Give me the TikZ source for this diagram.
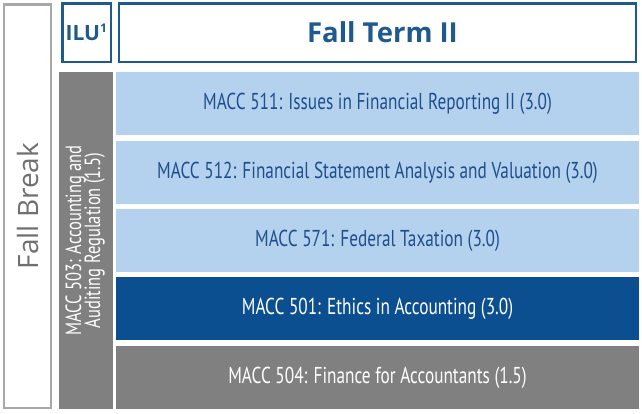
\documentclass[tikz,border=0pt]{standalone}
\usepackage{fontspec}
\setmainfont{PT Sans}
\newfontfamily\condfont[FakeStretch=0.75]{PT Sans}
\newfontfamily\headfont{Open Sans}
\definecolor{lightrow}{HTML}{B4D2EE}
\definecolor{darkrow}{HTML}{0B4F91}
\definecolor{grayrow}{HTML}{808080}
\definecolor{textblue}{HTML}{1F4E8C}
\definecolor{frameblue}{HTML}{1F5A8E}
\definecolor{framegray}{HTML}{A8A8A8}
\definecolor{breakgray}{HTML}{707070}
\begin{document}
\begin{tikzpicture}[x=1pt,y=-1pt,
  every node/.style={inner sep=0pt,outer sep=0pt},
  rowbox/.style={rectangle,minimum width=523pt,minimum height=63pt,font=\condfont\fontsize{23}{25}\selectfont},
  lightbox/.style={rowbox,fill=lightrow,text=textblue},
  darkbox/.style={rowbox,fill=darkrow,text=white},
  graybox/.style={rowbox,fill=grayrow,text=white},
  headbox/.style={rectangle,draw=frameblue,line width=2.5pt,fill=white,text=frameblue},
]
\useasboundingbox (0,0) rectangle (642,413);
\fill[white] (0,0) rectangle (642,413);
% Fall break
\node[rectangle,draw=framegray,line width=2.5pt,minimum width=47pt,minimum height=403.5pt,
  text=breakgray,font=\headfont\fontsize{28}{30}\selectfont] (fb) at (27.5,206) {\rotatebox{90}{Fall Break}};
% header
\node[headbox,minimum width=48.5pt,minimum height=58.5pt,font=\headfont\bfseries\fontsize{21}{22}\selectfont] (ilu) at (86.5,32.5) {ILU\textsuperscript{\fontsize{12}{12}\selectfont 1}};
\node[headbox,minimum width=517pt,minimum height=58.5pt,font=\headfont\bfseries\fontsize{27.5}{30}\selectfont] (term) at (377.5,32.5) {\hspace{10pt}Fall Term II};
% side column
\node[rectangle,fill=grayrow,minimum width=54pt,minimum height=337pt,text=white,
  font=\condfont\fontsize{22}{23}\selectfont] (m503) at (86,240.5)
  {\rotatebox{90}{\begin{tabular}{@{}c@{}}MACC 503: Accounting and\\[-4pt] Auditing Regulation (1.5)\end{tabular}}};
% rows
\node[lightbox] (r1) at (377.5,103.5) {\raisebox{-2pt}{MACC 511: Issues in Financial Reporting II (3.0)}};
\node[lightbox] (r2) at (377.5,172.5) {\raisebox{-2pt}{MACC 512: Financial Statement Analysis and Valuation (3.0)}};
\node[lightbox] (r3) at (377.5,240.5) {\raisebox{-2pt}{MACC 571: Federal Taxation (3.0)}};
\node[darkbox]  (r4) at (377.5,308.5) {\raisebox{-2pt}{MACC 501: Ethics in Accounting (3.0)}};
\node[graybox]  (r5) at (377.5,377.5) {\raisebox{-2pt}{MACC 504: Finance for Accountants (1.5)}};
\end{tikzpicture}
\end{document}
